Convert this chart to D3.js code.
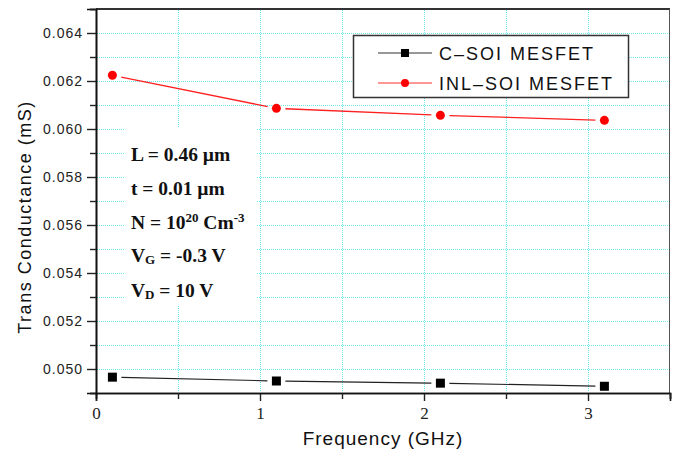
<!DOCTYPE html>
<html>
<head>
<meta charset="utf-8">
<script src="https://cdn.jsdelivr.net/npm/d3@7"></script>
<style>
  body { margin: 0; background: #fff; }
  svg { display: block; }
</style>
</head>
<body>
<div id="chart"></div>
<script>
// data
var freq = [0.1, 1.1, 2.1, 3.1];
var cSoi = [0.04966, 0.04950, 0.04941, 0.04928];
var inlSoi = [0.06224, 0.06086, 0.06057, 0.06036];
var seriesNames = ["C\u2013SOI MESFET", "INL\u2013SOI MESFET"];
var yMajor = [0.050, 0.052, 0.054, 0.056, 0.058, 0.060, 0.062, 0.064];
var yMinor = [0.049, 0.051, 0.053, 0.055, 0.057, 0.059, 0.061, 0.063, 0.065];
var xMajor = [0, 1, 2, 3];
var xMinor = [0.5, 1.5, 2.5, 3.5];
var yGrid = [0.050, 0.051, 0.052, 0.053, 0.054, 0.055, 0.056, 0.057,
             0.058, 0.059, 0.060, 0.061, 0.062, 0.063, 0.064];
var xGrid = [0.5, 1, 1.5, 2, 2.5, 3];

var W = 676, H = 457;
var plotL = 96, plotR = 670, plotT = 9, plotB = 393;

var x = d3.scaleLinear().domain([0, 3.5]).range([plotL, plotR]);
var y = d3.scaleLinear().domain([0.049, 0.065]).range([plotB, plotT]);

var svg = d3.select("#chart").append("svg")
    .attr("width", W)
    .attr("height", H);

// grid (dotted cyan)
var gridColor = "#6fe6ee";
svg.append("g").selectAll("line")
    .data(yGrid)
    .enter().append("line")
    .attr("x1", plotL + 1).attr("x2", plotR - 1)
    .attr("y1", function (d) { return Math.round(y(d)) + 0.5; })
    .attr("y2", function (d) { return Math.round(y(d)) + 0.5; })
    .attr("stroke", gridColor)
    .attr("stroke-width", 1)
    .attr("stroke-dasharray", "1,1");

svg.append("g").selectAll("line")
    .data(xGrid)
    .enter().append("line")
    .attr("y1", plotT + 1).attr("y2", plotB - 1)
    .attr("x1", function (d) { return Math.round(x(d)) + 0.5; })
    .attr("x2", function (d) { return Math.round(x(d)) + 0.5; })
    .attr("stroke", gridColor)
    .attr("stroke-width", 1)
    .attr("stroke-dasharray", "1,1");

// white block behind the annotation
svg.append("rect")
    .attr("x", 125).attr("y", 128)
    .attr("width", 132).attr("height", 178)
    .attr("fill", "#fff");

// frame: top and right
svg.append("line")
    .attr("x1", plotL).attr("x2", plotR).attr("y1", plotT).attr("y2", plotT)
    .attr("stroke", "#333").attr("stroke-width", 2);
svg.append("line")
    .attr("x1", plotR - 0.5).attr("x2", plotR - 0.5).attr("y1", plotT).attr("y2", plotB)
    .attr("stroke", "#555").attr("stroke-width", 1);

// axes
var yAxis = d3.axisLeft(y)
    .tickValues(yMajor)
    .tickSize(9)
    .tickPadding(4)
    .tickFormat(d3.format(".3f"));
var yAxisMinor = d3.axisLeft(y)
    .tickValues(yMinor)
    .tickSize(6)
    .tickFormat("");

var gy = svg.append("g").attr("transform", "translate(" + plotL + ",0)").call(yAxis);
svg.append("g").attr("transform", "translate(" + plotL + ",0)").call(yAxisMinor);

var xAxis = d3.axisBottom(x)
    .tickValues(xMajor)
    .tickSize(8)
    .tickPadding(6)
    .tickFormat(d3.format("d"));
var xAxisMinor = d3.axisBottom(x)
    .tickValues(xMinor)
    .tickSize(6)
    .tickFormat("");

var gx = svg.append("g").attr("transform", "translate(0," + plotB + ")").call(xAxis);
svg.append("g").attr("transform", "translate(0," + plotB + ")").call(xAxisMinor);

svg.selectAll(".domain").attr("stroke", "#111").attr("stroke-width", 1.6);
svg.selectAll(".tick line").attr("stroke", "#222").attr("stroke-width", 1.4);

gy.selectAll(".tick text")
    .attr("font-family", "Arial, 'Liberation Sans', sans-serif")
    .attr("font-size", 14)
    .attr("letter-spacing", "1px")
    .attr("fill", "#222");

gx.selectAll(".tick text")
    .attr("font-family", "'Times New Roman', 'Liberation Serif', serif")
    .attr("font-size", 17)
    .attr("fill", "#222");

// axis titles
svg.append("text")
    .attr("transform", "translate(31,217) rotate(-90)")
    .attr("text-anchor", "middle")
    .attr("font-family", "Arial, 'Liberation Sans', sans-serif")
    .attr("font-size", 18)
    .attr("letter-spacing", "1.5px")
    .attr("fill", "#111")
    .text("Trans Conductance (mS)");

svg.append("text")
    .attr("x", 383)
    .attr("y", 445)
    .attr("text-anchor", "middle")
    .attr("font-family", "Arial, 'Liberation Sans', sans-serif")
    .attr("font-size", 19)
    .attr("letter-spacing", "1px")
    .attr("fill", "#111")
    .text("Frequency (GHz)");

// lines with gaps near the symbols
function drawSeries(vals, color, width) {
    var pts = freq.map(function (f, i) { return [x(f), y(vals[i])]; });
    var gap = 9;
    for (var i = 0; i < pts.length - 1; i++) {
        var a = pts[i], b = pts[i + 1];
        var dx = b[0] - a[0], dy = b[1] - a[1];
        var len = Math.sqrt(dx * dx + dy * dy);
        var ux = dx / len, uy = dy / len;
        svg.append("line")
            .attr("x1", a[0] + ux * gap).attr("y1", a[1] + uy * gap)
            .attr("x2", b[0] - ux * gap).attr("y2", b[1] - uy * gap)
            .attr("stroke", color)
            .attr("stroke-width", width);
    }
}

drawSeries(cSoi, "#222", 1.2);
drawSeries(inlSoi, "#ff2020", 1.3);

svg.append("g").selectAll("rect")
    .data(cSoi)
    .enter().append("rect")
    .attr("x", function (d, i) { return x(freq[i]) - 4.5; })
    .attr("y", function (d) { return y(d) - 4.5; })
    .attr("width", 9).attr("height", 9)
    .attr("fill", "#000");

svg.append("g").selectAll("circle")
    .data(inlSoi)
    .enter().append("circle")
    .attr("cx", function (d, i) { return x(freq[i]); })
    .attr("cy", function (d) { return y(d); })
    .attr("r", 4.5)
    .attr("fill", "#ff0000");

// legend
var legend = svg.append("g");
legend.append("rect")
    .attr("x", 353.5).attr("y", 35.5)
    .attr("width", 275).attr("height", 62)
    .attr("fill", "#fff")
    .attr("stroke", "#333")
    .attr("stroke-width", 1.5);

var legendY = [53, 83];
var legendColors = ["#333", "#ff3030"];
seriesNames.forEach(function (name, i) {
    legend.append("line")
        .attr("x1", 378).attr("x2", 432)
        .attr("y1", legendY[i]).attr("y2", legendY[i])
        .attr("stroke", legendColors[i]).attr("stroke-width", 1.2);
    if (i === 0) {
        legend.append("rect")
            .attr("x", 401).attr("y", legendY[i] - 4)
            .attr("width", 8).attr("height", 8)
            .attr("fill", "#000");
    } else {
        legend.append("circle")
            .attr("cx", 405).attr("cy", legendY[i])
            .attr("r", 4).attr("fill", "#ff0000");
    }
    legend.append("text")
        .attr("x", 439)
        .attr("y", legendY[i] + 6.5)
        .attr("font-family", "Arial, 'Liberation Sans', sans-serif")
        .attr("font-size", 18)
        .attr("letter-spacing", "2px")
        .attr("fill", "#111")
        .text(name);
});

// device parameters
var notes = svg.append("g")
    .attr("font-family", "'Times New Roman', 'Liberation Serif', serif")
    .attr("font-weight", "bold")
    .attr("font-size", 19.5)
    .attr("fill", "#111");

notes.append("text").attr("x", 131).attr("y", 161).text("L = 0.46 \u00b5m");
notes.append("text").attr("x", 131).attr("y", 195).text("t = 0.01 \u00b5m");

var tN = notes.append("text").attr("x", 131).attr("y", 229);
tN.append("tspan").text("N = 10");
tN.append("tspan").attr("font-size", 13).attr("dy", -7).text("20");
tN.append("tspan").attr("dy", 7).text(" Cm");
tN.append("tspan").attr("font-size", 13).attr("dy", -7).text("-3");

var tG = notes.append("text").attr("x", 131).attr("y", 262);
tG.append("tspan").text("V");
tG.append("tspan").attr("font-size", 13).attr("dy", 2).text("G");
tG.append("tspan").attr("dy", -2).text(" = -0.3 V");

var tD = notes.append("text").attr("x", 131).attr("y", 297);
tD.append("tspan").text("V");
tD.append("tspan").attr("font-size", 13).attr("dy", 2).text("D");
tD.append("tspan").attr("dy", -2).text(" = 10 V");
</script>
</body>
</html>
